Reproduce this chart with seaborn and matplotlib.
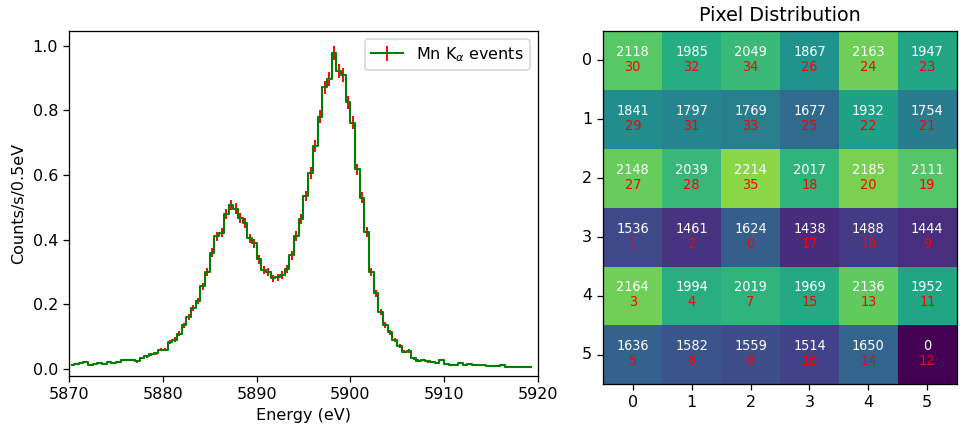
import numpy as np
import matplotlib
matplotlib.use("Agg")
import matplotlib.pyplot as plt
import seaborn as sns

# Mn K-alpha spectrum: count rate per 0.5 eV bin, first bin starts at 5870 eV
energy_start_ev = 5870.0
bin_width_ev = 0.5
count_rate = [
    0.012, 0.016, 0.017, 0.020, 0.011, 0.014, 0.018, 0.016, 0.021, 0.018,
    0.020, 0.028, 0.028, 0.028, 0.023, 0.034, 0.039, 0.046, 0.048, 0.060,
    0.060, 0.084, 0.091, 0.109, 0.135, 0.160, 0.189, 0.210, 0.255, 0.300,
    0.360, 0.410, 0.421, 0.480, 0.506, 0.496, 0.468, 0.452, 0.404, 0.388,
    0.339, 0.307, 0.300, 0.280, 0.283, 0.290, 0.308, 0.351, 0.411, 0.463,
    0.535, 0.606, 0.690, 0.780, 0.871, 0.897, 0.976, 0.922, 0.910, 0.825,
    0.762, 0.617, 0.530, 0.424, 0.300, 0.234, 0.176, 0.136, 0.113, 0.090,
    0.070, 0.053, 0.055, 0.033, 0.026, 0.028, 0.023, 0.021, 0.017, 0.028,
    0.015, 0.012, 0.012, 0.017, 0.012, 0.015, 0.011, 0.011, 0.013, 0.010,
    0.010, 0.009, 0.011, 0.007, 0.007, 0.007, 0.007, 0.007, 0.007,
]
exposure_s = 2000.0

# Event counts per pixel of the 6x6 array and the pixel id at each position
pixel_counts = [
    [2118, 1985, 2049, 1867, 2163, 1947],
    [1841, 1797, 1769, 1677, 1932, 1754],
    [2148, 2039, 2214, 2017, 2185, 2111],
    [1536, 1461, 1624, 1438, 1488, 1444],
    [2164, 1994, 2019, 1969, 2136, 1952],
    [1636, 1582, 1559, 1514, 1650, 0],
]
pixel_ids = [
    [30, 32, 34, 26, 24, 23],
    [29, 31, 33, 25, 22, 21],
    [27, 28, 35, 18, 20, 19],
    [1, 2, 0, 17, 10, 9],
    [3, 4, 7, 15, 13, 11],
    [5, 6, 8, 16, 14, 12],
]
grid_labels = [0, 1, 2, 3, 4, 5]

DPI = 115
fig = plt.figure(figsize=(961 / DPI, 438 / DPI), dpi=DPI)
ax_spec = fig.add_axes([0.0721, 0.1422, 0.4874, 0.7877])
ax_pix = fig.add_axes([0.6278, 0.1226, 0.3677, 0.8066])

# Spectrum with Poisson error bars
rate = np.asarray(count_rate)
centers = energy_start_ev + bin_width_ev * (np.arange(rate.size) + 0.5)
rate_err = np.sqrt(rate * exposure_s) / exposure_s
ax_spec.errorbar(centers, rate, yerr=rate_err, color="green", ecolor="red",
                 drawstyle="steps-mid", linewidth=1.3, elinewidth=1.2,
                 label=r"Mn K$_\alpha$ events")
ax_spec.set_xlim(5870, 5920)
ax_spec.set_ylim(-0.021, 1.046)
ax_spec.set_xlabel("Energy (eV)")
ax_spec.set_ylabel("Counts/s/0.5eV")
ax_spec.legend(loc="upper right")

# Pixel map, colour range from the spread of the live pixels
counts = np.asarray(pixel_counts)
live = counts[counts > 0]
spread = 2.25 * live.std()
vmin = live.mean() - spread
vmax = live.mean() + spread
sns.heatmap(counts, ax=ax_pix, cmap="viridis", vmin=vmin, vmax=vmax,
            cbar=False, xticklabels=grid_labels, yticklabels=grid_labels)
for spine in ax_pix.spines.values():
    spine.set_visible(True)
    spine.set_color("black")
ax_pix.tick_params(axis="y", rotation=0)
ax_pix.tick_params(axis="x", rotation=0)
for i in range(counts.shape[0]):
    for j in range(counts.shape[1]):
        ax_pix.text(j + 0.5, i + 0.355, str(counts[i, j]), ha="center",
                    va="center", color="white", fontsize=9,
                    fontstretch="condensed")
        ax_pix.text(j + 0.5, i + 0.61, str(pixel_ids[i][j]), ha="center",
                    va="center", color="red", fontsize=9,
                    fontstretch="condensed")
ax_pix.set_title("Pixel Distribution")

fig.savefig("out.png", dpi=DPI)
